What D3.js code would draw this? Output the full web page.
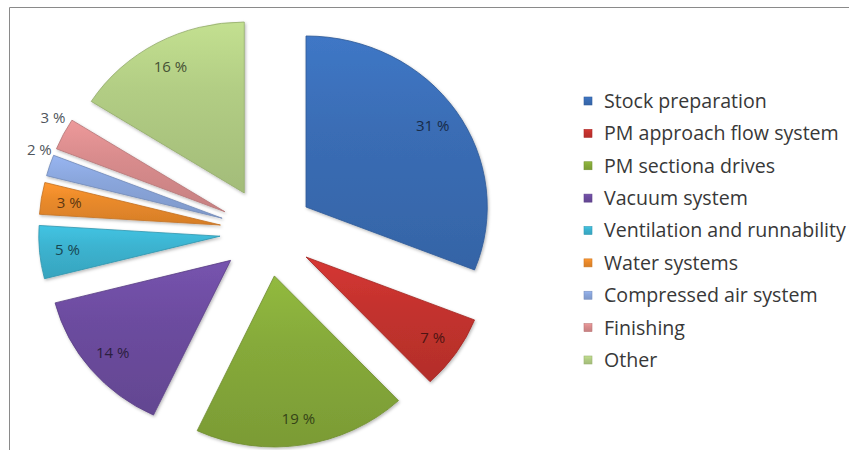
<!DOCTYPE html>
<html>
<head>
<meta charset="utf-8">
<script src="https://cdn.jsdelivr.net/npm/d3@7/dist/d3.min.js"></script>
<style>
  body { margin: 0; background: #ffffff; }
  svg { display: block; }
</style>
</head>
<body>
<svg id="chart" width="849" height="450"></svg>
<script>
// Electricity use of a paper machine, share by consumer (%)
const categories = [
  "Stock preparation",
  "PM approach flow system",
  "PM sectiona drives",
  "Vacuum system",
  "Ventilation and runnability",
  "Water systems",
  "Compressed air system",
  "Finishing",
  "Other"
];
const shares = [31, 7, 19, 14, 5, 3, 2, 3, 16];
const sliceColors = [
  "#3a6db5", "#c4322e", "#86aa3a", "#6c4c9f", "#3cb3d0",
  "#ea8a2b", "#8aa6dc", "#d98c8d", "#b2cd84"
];
// Small slices whose labels sit just outside the pie
const outsideLabels = ["Compressed air system", "Finishing"];

const svg = d3.select("#chart");
const W = 849, H = 450;

// chart frame (top and left edges)
svg.append("path")
  .attr("d", `M9.5,${H} V7.5 H${W}`)
  .attr("fill", "none")
  .attr("stroke", "#8a8a8a")
  .attr("stroke-width", 1);

const defs = svg.append("defs");
const shadow = defs.append("filter").attr("id", "soft")
  .attr("x", "-10%").attr("y", "-10%").attr("width", "120%").attr("height", "120%");
shadow.append("feDropShadow")
  .attr("dx", 1).attr("dy", 1.5).attr("stdDeviation", 1.6)
  .attr("flood-color", "#000").attr("flood-opacity", 0.28);

// one shaded gradient per colour
sliceColors.forEach((c, i) => {
  const g = defs.append("linearGradient").attr("id", "grad" + i)
    .attr("x1", 0).attr("y1", 0).attr("x2", 0).attr("y2", 1);
  g.append("stop").attr("offset", "0%").attr("stop-color", d3.color(c).brighter(0.25));
  g.append("stop").attr("offset", "40%").attr("stop-color", c);
  g.append("stop").attr("offset", "100%").attr("stop-color", d3.color(c).darker(0.25));
});

// pie geometry
const cx = 267, cy = 232;
const radius = 171;
const explode = 44.5;
const stretchX = 1.06;

const pie = d3.pie().sort(null).value(d => d.value)
  .startAngle(0).endAngle(2 * Math.PI);
const arcs = pie(categories.map((name, i) => ({ name, value: shares[i], i })));
const arc = d3.arc().innerRadius(0).outerRadius(radius);

const mid = a => (a.startAngle + a.endAngle) / 2;
const offset = a => [Math.sin(mid(a)) * explode, -Math.cos(mid(a)) * explode];

const pieG = svg.append("g")
  .attr("transform", `translate(${cx},${cy}) scale(${stretchX},1)`);

pieG.selectAll("path.slice")
  .data(arcs)
  .join("path")
  .attr("class", "slice")
  .attr("transform", a => `translate(${offset(a)[0]},${offset(a)[1]})`)
  .attr("d", arc)
  .attr("fill", a => `url(#grad${a.data.i})`)
  .attr("stroke", a => d3.color(sliceColors[a.data.i]).darker(0.5))
  .attr("stroke-width", 0.8)
  .attr("filter", "url(#soft)");

// data labels
const toScreen = (a, r) => {
  const [ox, oy] = offset(a);
  const ang = mid(a);
  return [cx + stretchX * (ox + r * Math.sin(ang)), cy + oy - r * Math.cos(ang)];
};

const labelFont = "'Open Sans', 'Liberation Sans', sans-serif";
svg.append("g").selectAll("text")
  .data(arcs)
  .join("text")
  .each(function (a) {
    const outside = outsideLabels.includes(a.data.name);
    const t = d3.select(this);
    if (outside) {
      const [px, py] = toScreen(a, radius);
      t.attr("x", px + 2).attr("y", py - 16)
        .attr("text-anchor", "end")
        .attr("fill", "#4f555c");
    } else {
      const [px, py] = toScreen(a, radius * 0.845);
      t.attr("x", px).attr("y", py)
        .attr("text-anchor", "middle")
        .attr("fill", d3.color(sliceColors[a.data.i]).darker(2.6));
    }
  })
  .attr("dy", "0.35em")
  .attr("font-family", labelFont)
  .attr("font-size", 15)
  .text(a => a.data.value + " %");

// legend
const legendX = 584, textX = 604;
const rowY = d3.scalePoint().domain(categories).range([101, 360]);
const legend = svg.append("g");

const items = legend.selectAll("g")
  .data(categories)
  .join("g")
  .attr("transform", d => `translate(0,${rowY(d)})`);

items.append("rect")
  .attr("x", legendX).attr("y", -4)
  .attr("width", 8).attr("height", 8)
  .attr("fill", (d, i) => `url(#grad${i})`)
  .attr("stroke", (d, i) => d3.color(sliceColors[i]).darker(0.4))
  .attr("stroke-width", 0.6);

const texts = items.append("text")
  .attr("x", textX).attr("dy", "0.35em")
  .attr("font-family", labelFont)
  .attr("font-size", 100)
  .attr("fill", "#383838")
  .text(d => d);

// fit the legend text so the longest entry reaches the right edge
const widest = d3.max(texts.nodes(), n => n.getComputedTextLength());
texts.attr("font-size", 100 * (W - 3 - textX) / widest);
</script>
</body>
</html>
